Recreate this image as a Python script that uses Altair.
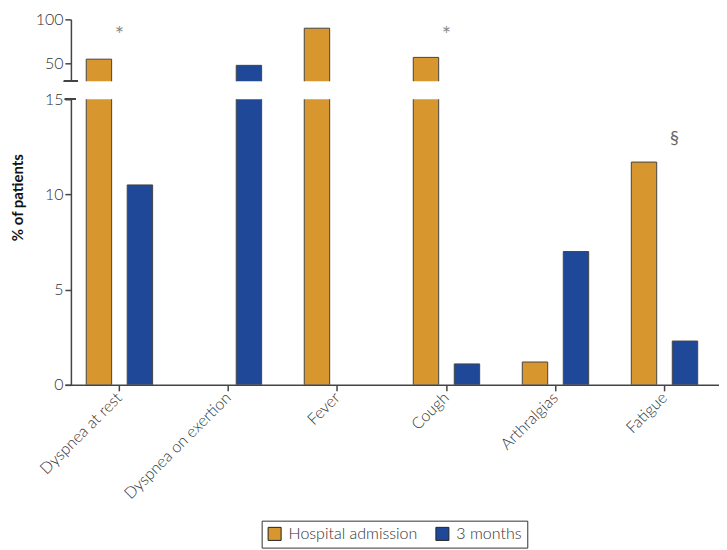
import altair as alt
import pandas as pd

categories = ["Dyspnea at rest", "Dyspnea on exertion", "Fever", "Cough", "Arthralgias", "Fatigue"]
series = ["Hospital admission", "3 months"]
hospital = [55, 0, 90, 57, 1.2, 11.7]
months3 = [10.5, 48, 0, 1.1, 7.0, 2.3]
colors = ["#D8962F", "#1F4899"]

upper_ticks = [50, 100]
lower_ticks = [0, 5, 10, 15]

annot_cats = ["Dyspnea at rest", "Cough", "Fatigue"]
annot_text = ["*", "*", "§"]
annot_vals = [82, 82, 12.9]
annot_panel = ["upper", "upper", "lower"]

rows = []
for c, h, m in zip(categories, hospital, months3):
    rows.append({"category": c, "series": series[0], "value": h})
    rows.append({"category": c, "series": series[1], "value": m})
df = pd.DataFrame(rows)
adf = pd.DataFrame({"category": annot_cats, "text": annot_text, "value": annot_vals, "panel": annot_panel})

FONT = "Lato"
W = 655
AX = "#444444"

xscale = alt.Scale(domain=categories, paddingInner=0, paddingOuter=0)
xoff = alt.XOffset("series:N", sort=series, scale=alt.Scale(domain=series, paddingInner=0.38, paddingOuter=0.52))
color = alt.Color("series:N", sort=series, scale=alt.Scale(domain=series, range=colors),
                  legend=alt.Legend(title=None, orient="none", direction="horizontal",
                                    legendX=197, legendY=502,
                                    strokeColor="#333333", padding=5,
                                    labelFontSize=16, labelFont=FONT, labelColor="#333333",
                                    labelFontWeight=300,
                                    symbolType="square", symbolSize=170,
                                    symbolStrokeColor="#222222", symbolStrokeWidth=1,
                                    columnPadding=16, labelOffset=6))

base = alt.Chart(df).transform_filter("datum.value > 0")

# upper panel
uy = alt.Y("value:Q", scale=alt.Scale(domain=[30, 100], nice=False, zero=False),
           axis=alt.Axis(values=upper_ticks, title=None, offset=-6, grid=False))
upper_bars = base.mark_bar(clip=True, stroke="#444444", strokeWidth=1).encode(
    x=alt.X("category:N", sort=categories, scale=xscale, axis=None),
    xOffset=xoff, y=uy, color=color)
upper_break = alt.Chart(df).mark_rule(color=AX, strokeWidth=1.5).encode(
    y=alt.datum(30), x=alt.value(-1), x2=alt.value(13))
upper_text = alt.Chart(adf).transform_filter("datum.panel == 'upper'").mark_text(
    font=FONT, fontSize=22, color="#8a8a8a").encode(
    x=alt.X("category:N", sort=categories, scale=xscale, axis=None),
    y=alt.Y("value:Q"), text="text:N")
upper = alt.layer(upper_bars, upper_break, upper_text).properties(width=W, height=62)

# lower panel
ly = alt.Y("value:Q", scale=alt.Scale(domain=[0, 15], nice=False),
           axis=alt.Axis(values=lower_ticks, title="% of patients", offset=-6, grid=False,
                         titleFont=FONT, titleFontSize=15, titleFontWeight="bold",
                         titleColor="#111111", titleX=-45, titleY=98, titleAngle=-90,
                         titleAlign="center", titleBaseline="bottom"))
lx = alt.X("category:N", sort=categories, scale=xscale,
           axis=alt.Axis(title=None, labelAngle=-45, labelAlign="right", labelBaseline="middle",
                         labelPadding=4, ticks=True))
lower_bars = base.mark_bar(clip=True, stroke="#444444", strokeWidth=1).encode(
    x=lx, xOffset=xoff, y=ly, color=color)
lower_break = alt.Chart(df).mark_rule(color=AX, strokeWidth=1.5).encode(
    y=alt.datum(15), x=alt.value(0), x2=alt.value(11))
lower_text = alt.Chart(adf).transform_filter("datum.panel == 'lower'").mark_text(
    font=FONT, fontSize=18, color="#666666", dx=10).encode(
    x=alt.X("category:N", sort=categories, scale=xscale),
    y=alt.Y("value:Q"), text="text:N")
lower = alt.layer(lower_bars, lower_break, lower_text).properties(width=W, height=286)

chart = alt.vconcat(upper, lower, spacing=18, bounds="flush").properties(
    padding={"left": 3, "top": 3, "right": 0, "bottom": 0}
).configure_view(stroke=None).configure_axis(
    labelFont=FONT, labelFontSize=16, labelColor="#333333", labelFontWeight=300,
    domainColor=AX, tickColor=AX, domainWidth=1.5, tickWidth=1.5, tickSize=6,
    minExtent=40, maxExtent=40,
)

chart.save("out.html", embed_options={"renderer": "svg", "actions": False})
